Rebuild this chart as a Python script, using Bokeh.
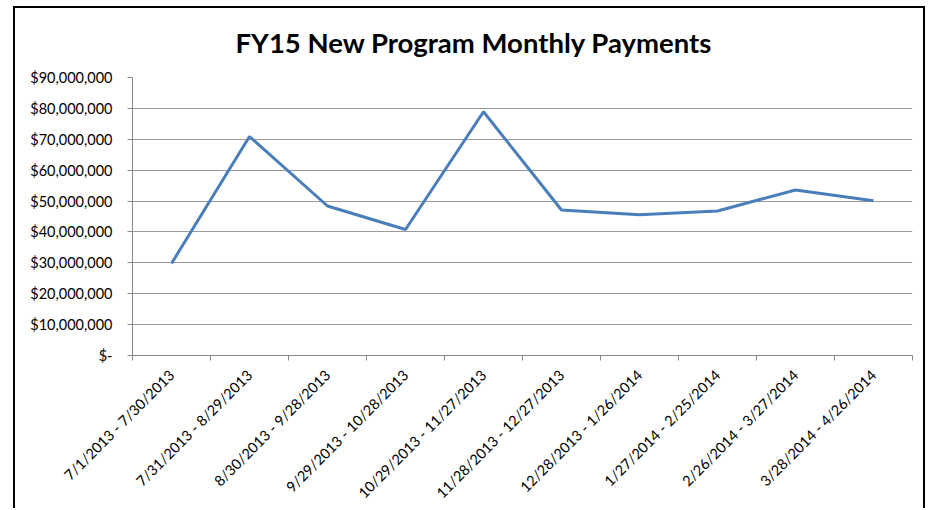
import numpy as np
from bokeh.plotting import figure
from bokeh.models import (Range1d, FixedTicker, NumeralTickFormatter, Title,
                          ColumnDataSource)
from bokeh.embed import file_html
from bokeh.resources import INLINE

title_text = "FY15 New Program Monthly Payments"
categories = [
    "7/1/2013 - 7/30/2013",
    "7/31/2013 - 8/29/2013",
    "8/30/2013 - 9/28/2013",
    "9/29/2013 - 10/28/2013",
    "10/29/2013 - 11/27/2013",
    "11/28/2013 - 12/27/2013",
    "12/28/2013 - 1/26/2014",
    "1/27/2014 - 2/25/2014",
    "2/26/2014 - 3/27/2014",
    "3/28/2014 - 4/26/2014",
]
payments = [29.8e6, 70.9e6, 48.4e6, 40.8e6, 78.9e6,
            47.1e6, 45.6e6, 46.8e6, 53.6e6, 50.1e6]
y_ticks = [0, 10e6, 20e6, 30e6, 40e6, 50e6, 60e6, 70e6, 80e6, 90e6]

FONT = "Lato"
n = len(categories)
xs = list(np.arange(n) + 0.5)
src = ColumnDataSource(dict(x=xs, y=payments))

p = figure(width=912, height=502, output_backend="svg", toolbar_location=None,
           x_range=Range1d(0, n), y_range=Range1d(0, y_ticks[-1]),
           min_border_left=117, min_border_right=15, min_border_top=69,
           min_border_bottom=155, title=None)
p.background_fill_color = "white"
p.border_fill_color = "white"
p.outline_line_color = None
p.styles = {"border-left": "2px solid #000", "border-top": "2px solid #000",
            "border-right": "2px solid #000", "margin-left": "13px",
            "margin-top": "6px"}

p.line("x", "y", source=src, line_color="#4A7EBB", line_width=3)

# x axis
xa = p.xaxis[0]
xa.ticker = FixedTicker(ticks=xs, minor_ticks=list(range(n + 1)))
xa.major_label_overrides = {x: c for x, c in zip(xs, categories)}
xa.major_label_orientation = np.pi / 4
xa.major_tick_line_color = None
xa.minor_tick_line_color = "#868686"
xa.minor_tick_in = 0
xa.minor_tick_out = 5
xa.axis_line_color = "#868686"
xa.major_label_standoff = 11
xa.major_label_text_font = FONT
xa.major_label_text_font_size = "14.5px"
xa.major_label_text_color = "#000000"

# y axis
ya = p.yaxis[0]
ya.ticker = FixedTicker(ticks=y_ticks, minor_ticks=[])
ya.formatter = NumeralTickFormatter(format="$0,0")
ya.major_label_overrides = {0: "$-"}
ya.major_tick_in = 0
ya.major_tick_out = 5
ya.major_tick_line_color = "#868686"
ya.axis_line_color = "#868686"
ya.major_label_standoff = 15
ya.major_label_text_font = FONT
ya.major_label_text_font_size = "14.5px"
ya.major_label_text_color = "#000000"

p.xgrid.grid_line_color = None
p.ygrid.ticker = FixedTicker(ticks=y_ticks)
p.ygrid.grid_line_color = "#9A9A9A"
p.ygrid.grid_line_width = 1

p.add_layout(Title(text=title_text, align="left", offset=103,
                   vertical_align="top",
                   text_font=FONT, text_font_style="bold",
                   text_font_size="27.5px", text_color="#000000",
                   standoff=33), "above")

open("out.html", "w").write(file_html(p, INLINE))
